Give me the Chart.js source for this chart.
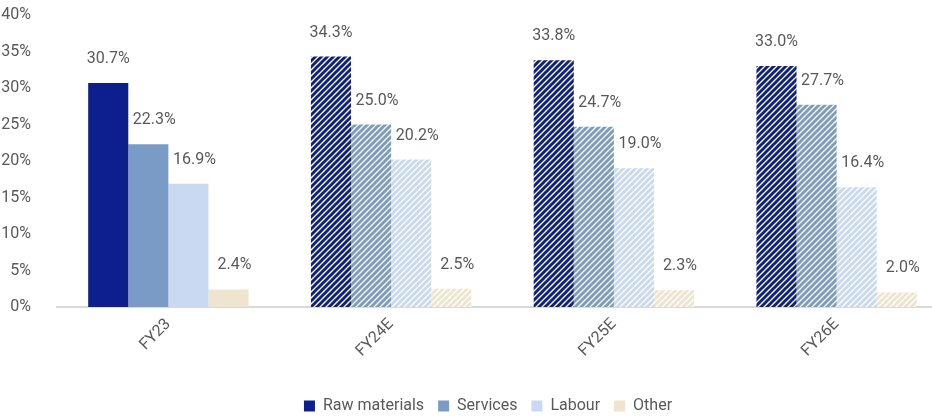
<!DOCTYPE html>
<html>
<head>
<meta charset="utf-8">
<script src="https://cdn.jsdelivr.net/npm/chart.js@4/dist/chart.umd.min.js"></script>
<style>
  html, body { margin: 0; padding: 0; background: #fff; overflow: hidden; }
  #wrap { position: relative; width: 976px; height: 416px; }
</style>
</head>
<body>
<div id="wrap"><canvas id="costChart"></canvas></div>
<script>
// datos del grafico
const categories = ["FY23", "FY24E", "FY25E", "FY26E"];
const seriesNames = ["Raw materials", "Services", "Labour", "Other"];
const rawMaterials = [30.7, 34.3, 33.8, 33.0];
const services = [22.3, 25.0, 24.7, 27.7];
const labour = [16.9, 20.2, 19.0, 16.4];
const other = [2.4, 2.5, 2.3, 2.0];
const yTicks = [0, 5, 10, 15, 20, 25, 30, 35, 40];

const colors = ["#0c1f8c", "#7a9bc6", "#cad9f2", "#efe4cd"];
const textColor = "#595959";
const font = { family: "Roboto", size: 16 };

// rayado diagonal para las estimaciones
function hatch(color) {
  const size = 6;
  const c = document.createElement("canvas");
  c.width = size; c.height = size;
  const ctx = c.getContext("2d");
  ctx.fillStyle = "#ffffff";
  ctx.fillRect(0, 0, size, size);
  ctx.strokeStyle = color;
  ctx.lineWidth = 3;
  ctx.beginPath();
  ctx.moveTo(-1, size + 1); ctx.lineTo(size + 1, -1);
  ctx.moveTo(-size / 2 - 1, size / 2 + 1); ctx.lineTo(size / 2 + 1, -size / 2 - 1);
  ctx.moveTo(size / 2 - 1, size * 1.5 + 1); ctx.lineTo(size * 1.5 + 1, size / 2 - 1);
  ctx.stroke();
  return ctx.createPattern(c, "repeat");
}

function fills(color) {
  const p = hatch(color);
  return categories.map((c, i) => (i === 0 ? color : p));
}

// etiquetas de valor encima de cada barra
const valueLabels = {
  id: "valueLabels",
  afterDatasetsDraw(chart) {
    const ctx = chart.ctx;
    ctx.save();
    ctx.font = "16px Roboto";
    ctx.fillStyle = textColor;
    ctx.textAlign = "center";
    ctx.textBaseline = "middle";
    chart.data.datasets.forEach((ds, di) => {
      const meta = chart.getDatasetMeta(di);
      const dx = di === 0 ? 0 : 6;
      meta.data.forEach((bar, i) => {
        ctx.fillText(ds.data[i].toFixed(1) + "%", bar.x + dx, bar.y - 24);
      });
    });
    ctx.restore();
  }
};

// leyenda mas baja y algo desplazada
const legendFit = {
  id: "legendFit",
  beforeInit(chart) {
    const lg = chart.legend;
    const origFit = lg.fit;
    lg.fit = function () {
      origFit.call(this);
      this.height = 32;
    };
    const origDraw = lg.draw;
    lg.draw = function () {
      const ctx = this.ctx;
      ctx.save();
      ctx.translate(14, 0);
      origDraw.call(this);
      ctx.restore();
    };
  }
};

const allSeries = [rawMaterials, services, labour, other];

new Chart(document.getElementById("costChart"), {
  type: "bar",
  data: {
    labels: categories,
    datasets: allSeries.map((vals, i) => ({
      label: seriesNames[i],
      data: vals,
      backgroundColor: fills(colors[i]),
      borderWidth: 0,
      categoryPercentage: 0.72,
      barPercentage: 1.0
    }))
  },
  options: {
    responsive: true,
    maintainAspectRatio: false,
    animation: false,
    layout: { padding: { top: 15, right: 28, left: 0, bottom: 0 } },
    plugins: {
      legend: {
        position: "bottom",
        labels: {
          boxWidth: 11,
          boxHeight: 11,
          padding: 14,
          color: textColor,
          font: font
        }
      },
      tooltip: { enabled: false }
    },
    scales: {
      x: {
        grid: { display: false, drawTicks: false },
        border: { color: "#d9d9d9", width: 2 },
        ticks: {
          color: textColor,
          font: font,
          minRotation: 45,
          maxRotation: 45,
          padding: 8
        },
        afterFit(scale) {
          scale.height = 77;
          scale.paddingLeft = 0;
          scale.paddingRight = 0;
        }
      },
      y: {
        min: 0,
        max: 40,
        afterBuildTicks(scale) { scale.ticks = yTicks.map(v => ({ value: v })); },
        grid: { display: false },
        border: { display: false },
        ticks: {
          color: textColor,
          font: font,
          padding: 18,
          callback: v => v + "%"
        },
        afterFit(scale) {
          scale.width = 57;
          scale.paddingTop = 0;
          scale.paddingBottom = 0;
        }
      }
    }
  },
  plugins: [valueLabels, legendFit]
});
</script>
</body>
</html>
